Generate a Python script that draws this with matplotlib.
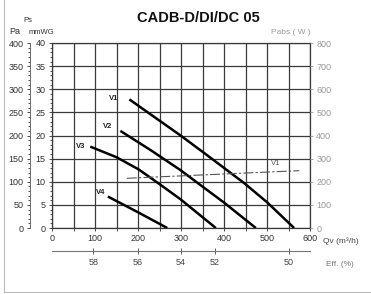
import matplotlib
matplotlib.use("Agg")
import matplotlib.pyplot as plt
from matplotlib.lines import Line2D

plt.rcParams['font.family'] = ['Liberation Sans', 'DejaVu Sans']

# ---- datos ----
q_v1 = [180, 299, 357, 447, 501, 563]
p_v1 = [278, 200, 160, 97, 55, 0]
q_v2 = [159, 230, 299, 345, 400, 474]
p_v2 = [210, 168, 125, 93, 55, 0]
q_v3 = [89, 150, 201, 250, 299, 381]
p_v3 = [176, 153, 127, 95, 62, 0]
q_v4 = [130, 200, 268]
p_v4 = [68, 34, 0]

# potencia absorbida V1 (W)
q_w1 = [174, 575]
w_v1 = [215, 248]

# rendimiento
eff_q = [96, 200, 299, 378, 551]
eff_labels = ["58", "56", "54", "52", "50"]

W, H = 371, 294
fig = plt.figure(figsize=(W / 100, H / 100), dpi=100)
fig.patch.set_facecolor("white")

ax = fig.add_axes([52 / W, 1 - 228 / H, 258 / W, 185 / H])
ax.set_xlim(0, 600)
ax.set_ylim(0, 400)

grid_c = "#3a3a3a"
for s in ax.spines.values():
    s.set_color(grid_c)
    s.set_linewidth(0.9)

ax.set_xticks(range(0, 601, 50), minor=True)
ax.set_xticks(range(0, 601, 100))
ax.set_xticklabels([str(v) for v in range(0, 601, 100)])
ax.set_yticks(range(0, 401, 50))
ax.set_yticklabels([str(v // 10) for v in range(0, 401, 50)])
ax.set_yticks(range(0, 401, 10), minor=True)
ax.xaxis.grid(True, which="both", color=grid_c, linewidth=0.9)
ax.yaxis.grid(True, which="major", color=grid_c, linewidth=0.9)
ax.tick_params(axis="both", which="both", labelsize=6.5, colors="#333333",
               length=2.5, width=0.6, pad=2)
ax.tick_params(axis="y", which="minor", length=1.5)

# eje Pa exterior
ax_pa = ax.twinx()
ax_pa.set_ylim(0, 400)
ax_pa.yaxis.set_ticks_position("left")
ax_pa.spines["left"].set_position(("outward", 16))
ax_pa.spines["left"].set_color("#555555")
ax_pa.spines["left"].set_linewidth(0.6)
for k in ["right", "top", "bottom"]:
    ax_pa.spines[k].set_visible(False)
ax_pa.set_yticks(range(0, 401, 50))
ax_pa.set_yticks(range(0, 401, 10), minor=True)
ax_pa.tick_params(axis="y", which="both", labelsize=6.5, colors="#333333",
                  length=2.5, width=0.6, pad=2)
ax_pa.tick_params(axis="y", which="minor", length=1.5)

# eje W derecho
ax_w = ax.twinx()
ax_w.set_ylim(0, 800)
for k in ["left", "top", "bottom", "right"]:
    ax_w.spines[k].set_visible(False)
ax_w.set_yticks(range(0, 801, 100))
ax_w.tick_params(axis="y", labelsize=6.5, colors="#999999", length=2.5,
                 width=0.6, pad=2)

# curvas
for q, p in [(q_v1, p_v1), (q_v2, p_v2), (q_v3, p_v3), (q_v4, p_v4)]:
    ax.plot(q, p, color="black", linewidth=1.8, solid_capstyle="butt",
            solid_joinstyle="round", zorder=5)
ax_w.plot(q_w1, w_v1, color="#555555", linewidth=0.8, dashes=(9, 2, 2, 2),
          zorder=5)

lab = dict(fontsize=5.5, fontweight="bold", color="#222222", zorder=6)
ax.text(155, 280, "V1", ha="right", va="center", **lab)
ax.text(140, 220, "V2", ha="right", va="center", **lab)
ax.text(78, 177, "V3", ha="right", va="center", **lab)
ax.text(125, 77, "V4", ha="right", va="center", **lab)
ax.text(520, 140, "V1", ha="center", va="center", fontsize=5.5,
        color="#555555", zorder=6)

# eje de rendimiento
sec = ax.secondary_xaxis(-0.124)
sec.set_xticks(eff_q)
sec.set_xticklabels(eff_labels)
sec.spines["bottom"].set_color("#777777")
sec.spines["bottom"].set_linewidth(0.8)
sec.tick_params(axis="x", direction="inout", length=4, width=0.6,
                labelsize=6.5, colors="#444444", pad=3)

# textos
fig.text(198 / W, 1 - 18 / H, "CADB-D/DI/DC 05", ha="center", va="center",
         fontsize=10.5, fontweight="bold", color="#111111")
fig.text(15 / W, 1 - 31 / H, "Pa", ha="center", va="center", fontsize=6.5,
         color="#333333")
fig.text(28 / W, 1 - 21 / H, "Ps", ha="center", va="center", fontsize=5.5,
         color="#333333")
fig.text(41 / W, 1 - 32 / H, "mmWG", ha="center", va="center", fontsize=5.5,
         color="#333333")
fig.text(291 / W, 1 - 33 / H, "Pabs ( W )", ha="center", va="center",
         fontsize=6, color="#999999")
fig.text(341 / W, 1 - 241 / H, "Qv (m³/h)", ha="center", va="center",
         fontsize=6, color="#444444")
fig.text(340 / W, 1 - 264 / H, "Eff. (%)", ha="center", va="center",
         fontsize=6, color="#777777")

# marco
fig.add_artist(Line2D([3.5 / W, 3.5 / W], [1, 1 - 292 / H],
                      transform=fig.transFigure, color="#bbbbbb", lw=0.8))
fig.add_artist(Line2D([3.5 / W, 1], [1 - 292 / H, 1 - 292 / H],
                      transform=fig.transFigure, color="#bbbbbb", lw=0.8))

fig.savefig("out.png", dpi=100)
